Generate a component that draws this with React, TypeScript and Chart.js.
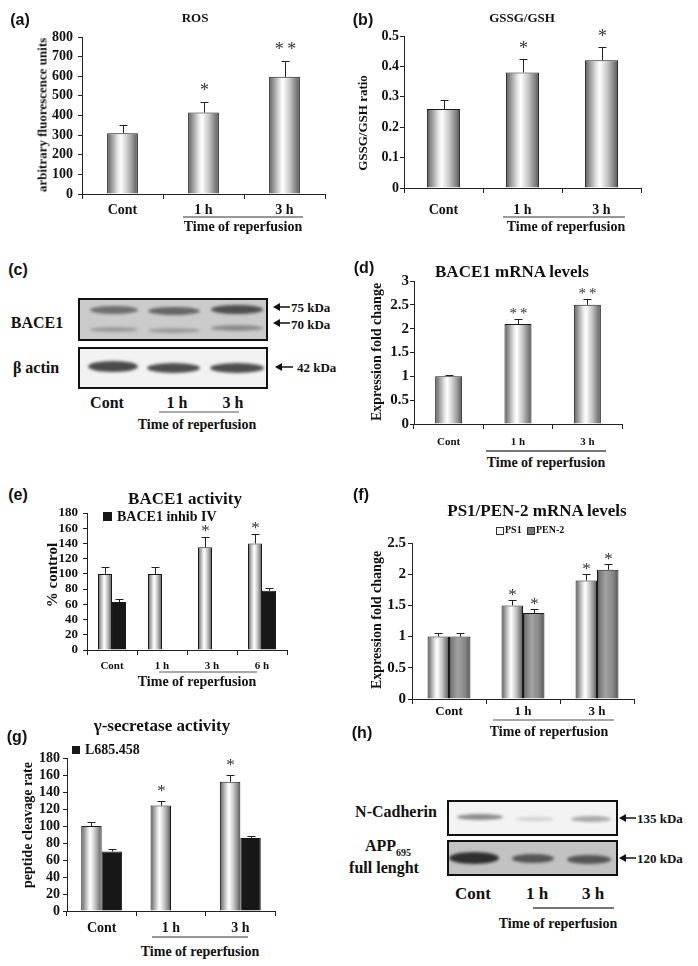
import React, { useEffect, useRef } from 'react';
import { Chart, registerables } from 'chart.js';
Chart.register(...registerables);

const SERIF = "'Liberation Serif','Times New Roman',serif";
const SANS = "'Liberation Sans',Arial,sans-serif";

// ---------- DATA ----------
const catsThree = ['Cont', '1 h', '3 h'];
const catsFour = ['Cont', '1 h', '3 h', '6 h'];

const rosValues = [310, 415, 597];
const rosErrTop = [350, 468, 678];
const rosStars = ['', '*', '**'];

const gssgValues = [0.26, 0.38, 0.42];
const gssgErrTop = [0.29, 0.423, 0.465];
const gssgStars = ['', '*', '*'];

const baceMrnaValues = [1.0, 2.1, 2.5];
const baceMrnaErrTop = [1.03, 2.21, 2.62];
const baceMrnaStars = ['', '**', '**'];

const baceActValues = [100, 100, 135, 140];
const baceActErrTop = [109, 109, 148, 152];
const baceActStars = ['', '', '*', '*'];
const baceInhibValues = [63, null, null, 78];
const baceInhibErrTop = [67, null, null, 81];

const ps1Values = [1.0, 1.5, 1.9];
const ps1ErrTop = [1.05, 1.58, 2.0];
const ps1Stars = ['', '*', '*'];
const pen2Values = [1.0, 1.38, 2.07];
const pen2ErrTop = [1.05, 1.45, 2.17];
const pen2Stars = ['', '*', '*'];

const gammaValues = [100, 124, 152];
const gammaErrTop = [105, 130, 160];
const gammaStars = ['', '*', '*'];
const l685Values = [70, null, 86];
const l685ErrTop = [73, null, 88];

// ---------- chart helpers ----------
type DS = { label: string; values: (number | null)[]; err: (number | null)[]; stars?: string[]; fill: 'light' | 'dark' | 'black' };
type Cfg = {
  left: number; top: number; right: number; bottom: number;
  yW: number; padTop: number; padRight: number; xH: number;
  labels: string[]; datasets: DS[]; yMax: number; yStep: number;
  yFont: number; yPad: number; xFont: number; xDy: number;
  barPct: number; catPct: number; starSize: number; starGap: number;
};

function makeFill(ctx: CanvasRenderingContext2D, kind: string, x0: number, x1: number) {
  if (kind === 'black') return '#171717';
  const g = ctx.createLinearGradient(x0, 0, x1, 0);
  if (kind === 'light') {
    g.addColorStop(0, '#5c5c5c');
    g.addColorStop(0.12, '#8e8e8e');
    g.addColorStop(0.35, '#e6e6e6');
    g.addColorStop(0.45, '#ffffff');
    g.addColorStop(0.68, '#c4c4c4');
    g.addColorStop(0.88, '#828282');
    g.addColorStop(1, '#555555');
  } else {
    g.addColorStop(0, '#4a4a4a');
    g.addColorStop(0.12, '#7a7a7a');
    g.addColorStop(0.4, '#a2a2a2');
    g.addColorStop(0.75, '#878787');
    g.addColorStop(1, '#555555');
  }
  return g;
}

function BarChart({ cfg }: { cfg: Cfg }) {
  const ref = useRef<HTMLCanvasElement>(null);
  const cw = cfg.right - cfg.left + cfg.yW + cfg.padRight;
  const ch = cfg.padTop + (cfg.bottom - cfg.top) + cfg.xH;
  useEffect(() => {
    const canvas = ref.current!;
    const xTl = 5;
    const plugin = {
      id: 'extras',
      beforeDatasetsDraw(chart: any) {
        const ctx = chart.ctx;
        chart.data.datasets.forEach((ds: any, i: number) => {
          const meta = chart.getDatasetMeta(i);
          meta.data.forEach((el: any) => {
            const fill = makeFill(ctx, cfg.datasets[i].fill, el.x - el.width / 2, el.x + el.width / 2);
            try { el.options.backgroundColor = fill; } catch (e) { el.options = { ...el.options, backgroundColor: fill }; }
          });
        });
      },
      afterDraw(chart: any) {
        const ctx = chart.ctx;
        const ys = chart.scales.y;
        ctx.save();
        cfg.datasets.forEach((d, i) => {
          const meta = chart.getDatasetMeta(i);
          meta.data.forEach((el: any, j: number) => {
            const v = d.values[j];
            const e = d.err[j];
            if (v == null || e == null) return;
            const x = Math.round(el.x) + 0.5;
            const yTop = ys.getPixelForValue(v);
            const yE = Math.round(ys.getPixelForValue(e)) + 0.5;
            ctx.strokeStyle = '#222';
            ctx.lineWidth = 1;
            ctx.beginPath();
            ctx.moveTo(x, yTop);
            ctx.lineTo(x, yE);
            ctx.moveTo(x - 4, yE);
            ctx.lineTo(x + 4, yE);
            ctx.stroke();
            const s = d.stars ? d.stars[j] : '';
            if (s) {
              ctx.fillStyle = '#333';
              ctx.font = `${cfg.starSize}px ${SERIF}`;
              ctx.textAlign = 'center';
              ctx.textBaseline = 'alphabetic';
              const yc = yE - cfg.starGap;
              ctx.fillText(s.split('').join(s.length > 1 ? '\u2009' : ''), x, yc + 0.52 * cfg.starSize);
            }
          });
        });
        ctx.restore();
      },
    };
    const chart = new Chart(canvas, {
      type: 'bar',
      data: {
        labels: cfg.labels,
        datasets: cfg.datasets.map((d) => ({
          label: d.label,
          data: d.values as any,
          backgroundColor: () => '#bbbbbb',
          borderColor: '#1a1a1a',
          borderWidth: 1,
          barPercentage: cfg.barPct,
          categoryPercentage: cfg.catPct,
        })),
      },
      options: {
        animation: false,
        responsive: false,
        devicePixelRatio: 1,
        layout: { padding: { top: cfg.padTop, right: cfg.padRight, left: 0, bottom: 0 } },
        plugins: { legend: { display: false }, tooltip: { enabled: false }, title: { display: false } },
        scales: {
          x: {
            grid: { display: true, drawOnChartArea: false, offset: true, tickLength: xTl, color: '#222', lineWidth: 1 },
            border: { display: true, color: '#222', width: 1 },
            ticks: {
              color: '#111',
              font: { family: SERIF, weight: 'bold', size: cfg.xFont },
              padding: cfg.xDy - xTl - 0.6 * cfg.xFont,
              maxRotation: 0,
              autoSkip: false,
            },
            afterFit: (s: any) => { s.height = cfg.xH; },
          },
          y: {
            min: 0,
            max: cfg.yMax,
            grid: { display: true, drawOnChartArea: false, tickLength: 4, color: '#222', lineWidth: 1 },
            border: { display: true, color: '#222', width: 1 },
            ticks: {
              stepSize: cfg.yStep,
              autoSkip: false,
              color: '#111',
              font: { family: SERIF, weight: 'bold', size: cfg.yFont },
              padding: cfg.yPad,
              callback: (v: any) => String(+Number(v).toFixed(2)),
            },
            afterFit: (s: any) => { s.width = cfg.yW; },
          },
        },
      },
      plugins: [plugin],
    } as any);
    return () => chart.destroy();
  }, []);
  return (
    <canvas
      ref={ref}
      width={cw}
      height={ch}
      style={{ position: 'absolute', left: cfg.left - cfg.yW, top: cfg.top - cfg.padTop, width: cw, height: ch }}
    />
  );
}

// ---------- text / shapes ----------
function T({ x, y, s, size, bold = true, fam = SERIF, align = 'center', rot = false, color = '#111', children }: any) {
  const tx = align === 'center' ? '-50%' : align === 'left' ? '0' : '-100%';
  return (
    <div
      style={{
        position: 'absolute', left: x, top: y, fontFamily: fam, fontSize: size, fontWeight: bold ? 'bold' : 'normal',
        lineHeight: 1, whiteSpace: 'nowrap', color,
        transform: rot ? 'translate(-50%,-50%) rotate(-90deg)' : `translate(${tx},-50%)`,
      }}
    >
      {s}
      {children}
    </div>
  );
}

function Blot({ x, y, w, h, bg, bands }: { x: number; y: number; w: number; h: number; bg: string; bands: any[] }) {
  return (
    <div style={{ position: 'absolute', left: x, top: y, width: w, height: h, boxSizing: 'border-box', border: '2px solid #111', background: bg, overflow: 'hidden' }}>
      {bands.map((b, i) => (
        <div
          key={i}
          style={{
            position: 'absolute', left: b.x - x - 2, top: b.y - y - 2 - b.h / 2, width: b.w, height: b.h,
            borderRadius: '50%', background: b.c, filter: `blur(${b.blur ?? 1.5}px)`,
          }}
        />
      ))}
    </div>
  );
}

const arrows = [
  [273, 307, 290], [273, 323, 290], [275, 367, 293], [619, 818, 636], [619, 858, 636],
];
const underlines = [
  [183, 303, 217, '#333', 1], [503, 625, 217, '#333', 1], [159, 239, 412, '#555', 1],
  [486, 606, 451, '#777', 2], [159, 257, 672, '#555', 1], [493, 614, 720, '#555', 1],
  [152, 248, 937, '#333', 1], [533, 614, 908, '#777', 2],
];

const panels: Record<string, Cfg> = {
  a: { left: 82, top: 37, right: 325, bottom: 194, yW: 60, padTop: 20, padRight: 8, xH: 34, labels: catsThree,
    datasets: [{ label: 'ROS', values: rosValues, err: rosErrTop, stars: rosStars, fill: 'light' }],
    yMax: 800, yStep: 100, yFont: 14, yPad: 5, xFont: 14, xDy: 16, barPct: 0.38, catPct: 1, starSize: 18, starGap: 16 },
  b: { left: 404, top: 36, right: 641, bottom: 188, yW: 55, padTop: 20, padRight: 8, xH: 34, labels: catsThree,
    datasets: [{ label: 'GSSG/GSH', values: gssgValues, err: gssgErrTop, stars: gssgStars, fill: 'light' }],
    yMax: 0.5, yStep: 0.1, yFont: 14, yPad: 1, xFont: 14, xDy: 22, barPct: 0.42, catPct: 1, starSize: 18, starGap: 15 },
  d: { left: 414, top: 281, right: 622, bottom: 424, yW: 45, padTop: 15, padRight: 8, xH: 28, labels: catsThree,
    datasets: [{ label: 'BACE1 mRNA', values: baceMrnaValues, err: baceMrnaErrTop, stars: baceMrnaStars, fill: 'light' }],
    yMax: 3, yStep: 0.5, yFont: 15, yPad: 1, xFont: 11, xDy: 18, barPct: 0.39, catPct: 1, starSize: 15, starGap: 9 },
  e: { left: 87, top: 513, right: 287, bottom: 650, yW: 50, padTop: 25, padRight: 8, xH: 26, labels: catsFour,
    datasets: [
      { label: 'BACE1 activity', values: baceActValues, err: baceActErrTop, stars: baceActStars, fill: 'light' },
      { label: 'BACE1 inhib IV', values: baceInhibValues, err: baceInhibErrTop, fill: 'black' },
    ],
    yMax: 180, yStep: 20, yFont: 13, yPad: 5, xFont: 11, xDy: 16, barPct: 1, catPct: 0.56, starSize: 17, starGap: 10 },
  f: { left: 412, top: 543, right: 634, bottom: 699, yW: 45, padTop: 20, padRight: 8, xH: 24, labels: catsThree,
    datasets: [
      { label: 'PS1', values: ps1Values, err: ps1ErrTop, stars: ps1Stars, fill: 'light' },
      { label: 'PEN-2', values: pen2Values, err: pen2ErrTop, stars: pen2Stars, fill: 'dark' },
    ],
    yMax: 2.5, yStep: 0.5, yFont: 15, yPad: 2, xFont: 13, xDy: 13, barPct: 1, catPct: 0.58, starSize: 17, starGap: 9 },
  g: { left: 67, top: 758, right: 275, bottom: 911, yW: 45, padTop: 20, padRight: 8, xH: 26, labels: catsThree,
    datasets: [
      { label: 'γ-secretase', values: gammaValues, err: gammaErrTop, stars: gammaStars, fill: 'light' },
      { label: 'L685.458', values: l685Values, err: l685ErrTop, fill: 'black' },
    ],
    yMax: 180, yStep: 20, yFont: 14, yPad: 3, xFont: 14, xDy: 17, barPct: 1, catPct: 0.59, starSize: 17, starGap: 14 },
};

export default function App() {
  return (
    <div style={{ position: 'fixed', left: 0, top: 0, width: 698, height: 966, background: '#fff', overflow: 'hidden' }}>
      {Object.keys(panels).map((k) => <BarChart key={k} cfg={panels[k]} />)}

      {/* panel letters */}
      <T x={20} y={20} s="(a)" size={16} fam={SANS} />
      <T x={363} y={20} s="(b)" size={16} fam={SANS} />
      <T x={18} y={270} s="(c)" size={16} fam={SANS} />
      <T x={364} y={268} s="(d)" size={16} fam={SANS} />
      <T x={18} y={495} s="(e)" size={16} fam={SANS} />
      <T x={361} y={495} s="(f)" size={16} fam={SANS} />
      <T x={17} y={737} s="(g)" size={16} fam={SANS} />
      <T x={362} y={733} s="(h)" size={16} fam={SANS} />

      {/* titles */}
      <T x={195} y={17} s="ROS" size={13} />
      <T x={522} y={17} s="GSSG/GSH" size={13} />
      <T x={512} y={271} s="BACE1 mRNA levels" size={17} />
      <T x={185} y={498} s="BACE1 activity" size={17} />
      <T x={537} y={510} s="PS1/PEN-2 mRNA levels" size={17} />
      <T x={162} y={725} s="γ-secretase activity" size={17} />

      {/* y titles */}
      <T x={42} y={115} s="arbitrary fluorescence units" size={13} rot />
      <T x={362} y={123} s="GSSG/GSH ratio" size={13} rot />
      <T x={377} y={352} s="Expression fold change" size={14} rot />
      <T x={52} y={575} s="% control" size={15} rot />
      <T x={377} y={620} s="Expression fold change" size={14} rot />
      <T x={28} y={825} s="peptide cleavage rate" size={14} rot />

      {/* Time of reperfusion */}
      <T x={243} y={227} s="Time of reperfusion" size={14} />
      <T x={566} y={227} s="Time of reperfusion" size={14} />
      <T x={197} y={425} s="Time of reperfusion" size={14} />
      <T x={546} y={463} s="Time of reperfusion" size={14} />
      <T x={197} y={682} s="Time of reperfusion" size={14} />
      <T x={549} y={732} s="Time of reperfusion" size={14} />
      <T x={200} y={952} s="Time of reperfusion" size={14} />
      <T x={558} y={924} s="Time of reperfusion" size={14} />

      {/* legends */}
      <div style={{ position: 'absolute', left: 103, top: 512, width: 9, height: 9, background: '#171717' }} />
      <T x={117} y={517} s="BACE1 inhib IV" size={14} align="left" />
      <div style={{ position: 'absolute', left: 72, top: 746, width: 8, height: 8, background: '#171717' }} />
      <T x={85} y={750} s="L685.458" size={14} align="left" />
      <div style={{ position: 'absolute', left: 496, top: 527, width: 6, height: 6, border: '1px solid #333', background: '#f4f4f4' }} />
      <T x={505} y={530} s="PS1" size={10} align="left" />
      <div style={{ position: 'absolute', left: 527, top: 527, width: 6, height: 6, border: '1px solid #333', background: '#7a7a7a' }} />
      <T x={536} y={530} s="PEN-2" size={10} align="left" />

      {/* blot (c) */}
      <Blot x={78} y={298} w={190} h={43} bg="#cbcbcb" bands={[
        { x: 90, y: 310, w: 48, h: 8, c: '#6e6e6e' }, { x: 148, y: 311, w: 52, h: 8, c: '#666' }, { x: 211, y: 309, w: 52, h: 9, c: '#4f4f4f' },
        { x: 90, y: 329, w: 48, h: 5, c: '#9a9a9a' }, { x: 148, y: 330, w: 52, h: 5, c: '#9c9c9c' }, { x: 211, y: 328, w: 52, h: 6, c: '#8c8c8c' },
      ]} />
      <Blot x={78} y={347} w={190} h={42} bg="#f2f2f2" bands={[
        { x: 88, y: 366, w: 50, h: 11, c: '#4a4a4a' }, { x: 147, y: 368, w: 53, h: 10, c: '#4e4e4e' }, { x: 210, y: 368, w: 54, h: 10, c: '#4e4e4e' },
      ]} />
      <T x={37} y={323} s="BACE1" size={16} />
      <T x={36} y={368} s="β actin" size={16} />
      <T x={291} y={307} s="75 kDa" size={13} align="left" />
      <T x={291} y={324} s="70 kDa" size={13} align="left" />
      <T x={297} y={367} s="42 kDa" size={13} align="left" />
      <T x={107} y={403} s="Cont" size={16} />
      <T x={177} y={403} s="1 h" size={16} />
      <T x={233} y={403} s="3 h" size={16} />

      {/* blot (h) */}
      <Blot x={447} y={800} w={171} h={36} bg="#f3f3f3" bands={[
        { x: 457, y: 817, w: 46, h: 6, c: '#8a8a8a' }, { x: 516, y: 819, w: 38, h: 4, c: '#d0d0d0' }, { x: 571, y: 819, w: 40, h: 6, c: '#a8a8a8' },
      ]} />
      <Blot x={447} y={840} w={171} h={36} bg="#c2c2c2" bands={[
        { x: 449, y: 858, w: 50, h: 12, c: '#2e2e2e' }, { x: 512, y: 858, w: 42, h: 9, c: '#555' }, { x: 567, y: 859, w: 44, h: 9, c: '#555' },
      ]} />
      <T x={396} y={812} s="N-Cadherin" size={16} />
      <T x={388} y={848} s="APP" size={16}>
        <span style={{ fontSize: 10, verticalAlign: -5 }}>695</span>
      </T>
      <T x={384} y={868} s="full lenght" size={16} />
      <T x={637} y={818} s="135 kDa" size={13} align="left" />
      <T x={637} y={858} s="120 kDa" size={13} align="left" />
      <T x={473} y={893} s="Cont" size={17} />
      <T x={537} y={893} s="1 h" size={17} />
      <T x={593} y={893} s="3 h" size={17} />

      <svg width={698} height={966} style={{ position: 'absolute', left: 0, top: 0, pointerEvents: 'none' }}>
        {underlines.map((u: any, i) => (
          <line key={i} x1={u[0]} x2={u[1]} y1={u[2]} y2={u[2]} stroke={u[3]} strokeWidth={u[4]} />
        ))}
        {arrows.map((a, i) => (
          <g key={i}>
            <line x1={a[0] + 5} x2={a[2]} y1={a[1]} y2={a[1]} stroke="#111" strokeWidth={1.5} />
            <polygon points={`${a[0]},${a[1]} ${a[0] + 7},${a[1] - 4} ${a[0] + 7},${a[1] + 4}`} fill="#111" />
          </g>
        ))}
      </svg>
    </div>
  );
}
